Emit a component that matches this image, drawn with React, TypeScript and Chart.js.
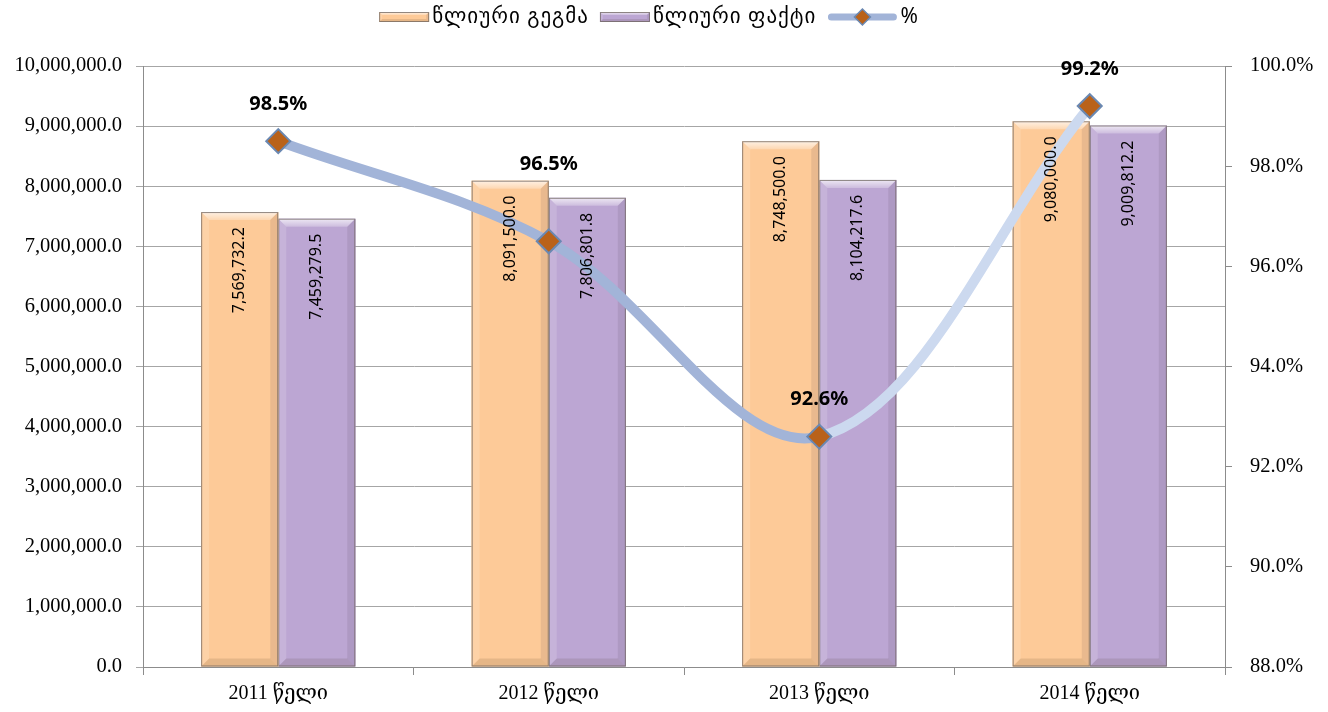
import React, { useEffect, useRef } from 'react';
import { Chart, registerables } from 'chart.js';

Chart.register(...registerables);

const categories = ['2011 წელი', '2012 წელი', '2013 წელი', '2014 წელი'];
const planValues = [7569732.2, 8091500.0, 8748500.0, 9080000.0];
const factValues = [7459279.5, 7806801.8, 8104217.6, 9009812.2];
const percentValues = [98.5, 96.5, 92.6, 99.2];
const seriesNames = ['წლიური გეგმა', 'წლიური ფაქტი', '%'];
const leftAxisMin = 0;
const leftAxisMax = 10000000;
const leftAxisStep = 1000000;
const rightAxisMin = 88;
const rightAxisMax = 100;
const rightAxisStep = 2;

// styles
const PLAN_COLOR = '#FDCA98';
const FACT_COLOR = '#BCA6D3';
const LINE_DARK = '#A2B4D8';
const LINE_LIGHT = '#CCD9EF';
const MARKER_FILL = '#B9621A';
const MARKER_BORDER = '#6A88B2';
const percentLabelLift = [37, 77, 37, 37];
const SERIF = '"Liberation Serif", "DejaVu Serif", serif';
const SANS = '"Noto Sans", "DejaVu Sans", sans-serif';

const fmtNum = (v: number) =>
  v.toLocaleString('en-US', { minimumFractionDigits: 1, maximumFractionDigits: 1 });

function poly(ctx: CanvasRenderingContext2D, pts: number[][], fill: string | CanvasGradient) {
  ctx.beginPath();
  ctx.moveTo(pts[0][0], pts[0][1]);
  for (let i = 1; i < pts.length; i++) ctx.lineTo(pts[i][0], pts[i][1]);
  ctx.closePath();
  ctx.fillStyle = fill;
  ctx.fill();
}

function drawBevelRect(ctx: CanvasRenderingContext2D, L: number, T: number, R: number, B: number, color: string, b: number) {
  ctx.fillStyle = color;
  ctx.fillRect(L, T, R - L, B - T);
  const g = ctx.createLinearGradient(0, T, 0, T + b);
  g.addColorStop(0, 'rgba(255,255,255,0.75)');
  g.addColorStop(1, 'rgba(255,255,255,0.25)');
  poly(ctx, [[L, T], [R, T], [R - b, T + b], [L + b, T + b]], g);
  poly(ctx, [[L, T], [L + b, T + b], [L + b, B - b], [L, B]], 'rgba(255,255,255,0.15)');
  poly(ctx, [[R, T], [R, B], [R - b, B - b], [R - b, T + b]], 'rgba(60,40,60,0.10)');
  poly(ctx, [[L, B], [L + b, B - b], [R - b, B - b], [R, B]], 'rgba(60,40,20,0.12)');
  ctx.strokeStyle = 'rgba(110,100,95,0.75)';
  ctx.lineWidth = 1;
  ctx.strokeRect(L + 0.5, T + 0.5, R - L - 1, B - T - 1);
}

const bevelPlugin = {
  id: 'bevelBars',
  afterDatasetDraw(chart: any, args: any) {
    const ds = chart.data.datasets[args.index];
    if (ds.type !== 'bar') return;
    const ctx: CanvasRenderingContext2D = chart.ctx;
    ctx.save();
    args.meta.data.forEach((bar: any) => {
      const { x, y, base, width } = bar.getProps(['x', 'y', 'base', 'width'], true);
      const L = x - width / 2;
      const R = x + width / 2;
      const T = Math.min(y, base);
      const B = Math.max(y, base);
      drawBevelRect(ctx, L, T, R, B, ds.backgroundColor, 8);
    });
    ctx.restore();
  },
};

const labelsPlugin = {
  id: 'valueLabels',
  afterDatasetsDraw(chart: any) {
    const ctx: CanvasRenderingContext2D = chart.ctx;
    ctx.save();
    chart.data.datasets.forEach((ds: any, di: number) => {
      const meta = chart.getDatasetMeta(di);
      if (ds.type === 'bar') {
        meta.data.forEach((bar: any, i: number) => {
          const { x, y } = bar.getProps(['x', 'y'], true);
          ctx.save();
          ctx.translate(x, y + 15);
          ctx.rotate(-Math.PI / 2);
          ctx.font = `16px ${SANS}`;
          ctx.fillStyle = '#000';
          ctx.textAlign = 'right';
          ctx.textBaseline = 'middle';
          ctx.fillText(fmtNum(ds.data[i]), 0, 0);
          ctx.restore();
        });
      } else {
        meta.data.forEach((pt: any, i: number) => {
          const { x, y } = pt.getProps(['x', 'y'], true);
          ctx.font = `bold 20px ${SANS}`;
          ctx.fillStyle = '#000';
          ctx.textAlign = 'center';
          ctx.textBaseline = 'middle';
          ctx.fillText(ds.data[i].toFixed(1) + '%', x, y - percentLabelLift[i]);
        });
      }
    });
    ctx.restore();
  },
};

const legendPlugin = {
  id: 'customLegend',
  afterDraw(chart: any) {
    const ctx: CanvasRenderingContext2D = chart.ctx;
    ctx.save();
    ctx.font = `21px ${SANS}`;
    (ctx as any).letterSpacing = '1px';
    ctx.textBaseline = 'middle';
    ctx.fillStyle = '#000';
    const cy = 17;
    const swW = 50;
    const lineW = 70;
    const gapText = 3;
    const gapItem = 11;
    const w0 = ctx.measureText(seriesNames[0]).width;
    const w1 = ctx.measureText(seriesNames[1]).width;
    const w2 = ctx.measureText(seriesNames[2]).width;
    const total = swW + gapText + w0 + gapItem + swW + gapText + w1 + gapItem + lineW + gapText + w2;
    let x = 649 - total / 2;
    drawBevelRect(ctx, x, cy - 5, x + swW, cy + 5, PLAN_COLOR, 3);
    x += swW + gapText;
    ctx.fillStyle = '#000';
    ctx.textAlign = 'left';
    ctx.fillText(seriesNames[0], x, cy);
    x += w0 + gapItem;
    drawBevelRect(ctx, x, cy - 5, x + swW, cy + 5, FACT_COLOR, 3);
    x += swW + gapText;
    ctx.fillStyle = '#000';
    ctx.fillText(seriesNames[1], x, cy);
    x += w1 + gapItem;
    ctx.strokeStyle = LINE_DARK;
    ctx.lineWidth = 7;
    ctx.lineCap = 'round';
    ctx.beginPath();
    ctx.moveTo(x + 4, cy);
    ctx.lineTo(x + lineW - 4, cy);
    ctx.stroke();
    const mx = x + lineW / 2;
    const r = 8;
    ctx.beginPath();
    ctx.moveTo(mx, cy - r);
    ctx.lineTo(mx + r, cy);
    ctx.lineTo(mx, cy + r);
    ctx.lineTo(mx - r, cy);
    ctx.closePath();
    ctx.fillStyle = MARKER_FILL;
    ctx.fill();
    ctx.lineWidth = 1.5;
    ctx.strokeStyle = MARKER_BORDER;
    ctx.stroke();
    x += lineW + gapText;
    ctx.fillStyle = '#000';
    ctx.fillText(seriesNames[2], x, cy);
    ctx.restore();
  },
};

export default function App() {
  const canvasRef = useRef<HTMLCanvasElement | null>(null);

  useEffect(() => {
    const canvas = canvasRef.current;
    if (!canvas) return;
    const chart = new Chart(canvas, {
      type: 'bar',
      data: {
        labels: categories,
        datasets: [
          {
            type: 'line',
            label: seriesNames[2],
            data: percentValues,
            yAxisID: 'y1',
            order: 0,
            borderColor: LINE_DARK,
            borderWidth: 10,
            borderCapStyle: 'round',
            tension: 0.35,
            segment: {
              borderColor: (c: any) => (c.p0DataIndex === 2 ? LINE_LIGHT : LINE_DARK),
            },
            pointStyle: 'rectRot',
            pointRadius: 12,
            pointHoverRadius: 12,
            pointBackgroundColor: MARKER_FILL,
            pointBorderColor: MARKER_BORDER,
            pointBorderWidth: 2,
            fill: false,
          } as any,
          {
            type: 'bar',
            label: seriesNames[0],
            data: planValues,
            yAxisID: 'y',
            order: 1,
            backgroundColor: PLAN_COLOR,
            barPercentage: 1,
            categoryPercentage: 0.57,
          } as any,
          {
            type: 'bar',
            label: seriesNames[1],
            data: factValues,
            yAxisID: 'y',
            order: 1,
            backgroundColor: FACT_COLOR,
            barPercentage: 1,
            categoryPercentage: 0.57,
          } as any,
        ],
      },
      options: {
        responsive: false,
        animation: false,
        devicePixelRatio: 1,
        layout: { padding: { top: 66, left: 0, right: 0, bottom: 0 } },
        plugins: {
          legend: { display: false },
          tooltip: { enabled: false },
        },
        scales: {
          x: {
            type: 'category',
            offset: true,
            grid: {
              offset: true,
              drawOnChartArea: false,
              tickLength: 8,
              color: '#8C8C8C',
            },
            border: { color: '#8C8C8C' },
            ticks: {
              color: '#000',
              font: { family: SERIF, size: 20 },
              padding: 7,
            },
            afterFit: (s: any) => {
              s.height = 45;
            },
          },
          y: {
            position: 'left',
            min: leftAxisMin,
            max: leftAxisMax,
            ticks: {
              stepSize: leftAxisStep,
              color: '#000',
              font: { family: SERIF, size: 20.5 },
              padding: 14,
              callback: (v: any) => fmtNum(Number(v)),
            },
            grid: { color: '#A6A6A6', tickLength: 7 },
            border: { color: '#8C8C8C' },
            afterFit: (s: any) => {
              s.width = 143;
            },
          },
          y1: {
            position: 'right',
            min: rightAxisMin,
            max: rightAxisMax,
            ticks: {
              stepSize: rightAxisStep,
              color: '#000',
              font: { family: SERIF, size: 20.5 },
              padding: 18,
              callback: (v: any) => Number(v).toFixed(1) + '%',
            },
            grid: { drawOnChartArea: false, tickLength: 7, color: '#8C8C8C' },
            border: { color: '#8C8C8C' },
            afterFit: (s: any) => {
              s.width = 103;
            },
          },
        },
      } as any,
      plugins: [bevelPlugin, labelsPlugin, legendPlugin],
    });
    return () => chart.destroy();
  }, []);

  return (
    <div style={{ position: 'fixed', left: 0, top: 0, width: 1328, height: 712, background: '#fff' }}>
      <canvas ref={canvasRef} width={1328} height={712} style={{ width: 1328, height: 712 }} />
    </div>
  );
}
